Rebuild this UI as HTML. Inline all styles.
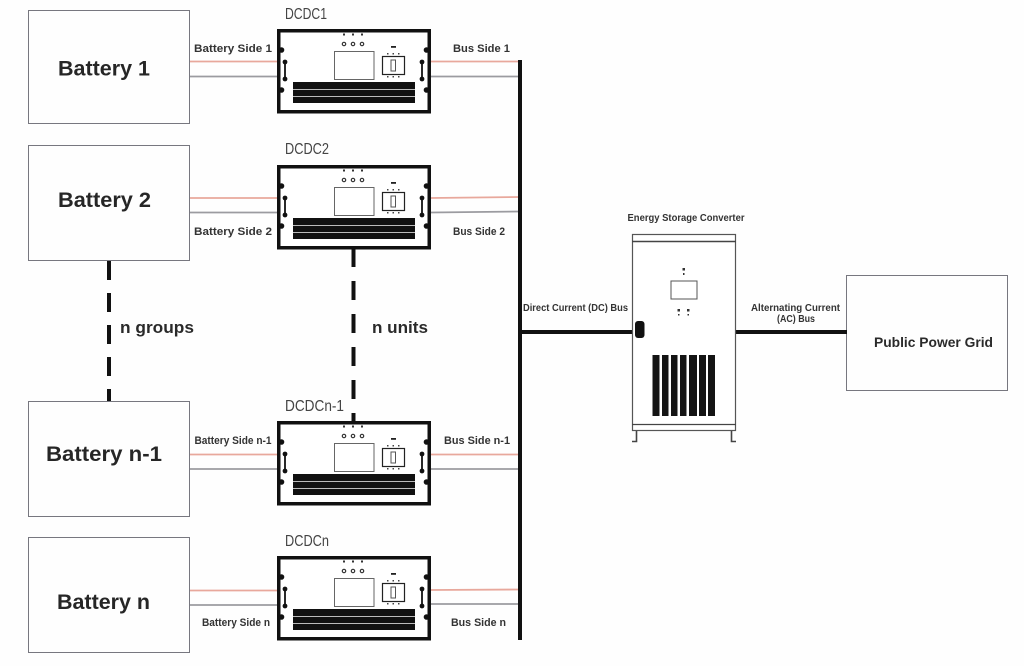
<!DOCTYPE html>
<html><head><meta charset="utf-8"><style>
html,body{margin:0;padding:0;background:#fefefe}
svg{display:block}
text{font-family:"Liberation Sans","Noto Sans CJK SC",sans-serif;fill:#2a2a2a;font-weight:bold}
.b{font-size:21px;fill:#262626}
.s{font-size:11px;fill:#333}
.d{font-weight:normal;font-size:16px;fill:#444}
.g{fill:none;stroke:#77777f;stroke-width:1}
</style></head><body>
<svg width="1024" height="666" viewBox="0 0 1024 666" xmlns="http://www.w3.org/2000/svg">
<defs>
<g id="m">
<rect x="1.75" y="1.75" width="150.5" height="81" fill="#fff" stroke="#111" stroke-width="3.5"/>
<g fill="#333"><rect x="66" y="4.5" width="2" height="2"/><rect x="75" y="4.5" width="2" height="2"/><rect x="84" y="4.5" width="2" height="2"/></g>
<g fill="none" stroke="#333" stroke-width="1.2"><circle cx="67" cy="15" r="1.7"/><circle cx="76" cy="15" r="1.7"/><circle cx="85" cy="15" r="1.7"/></g>
<rect x="57.500" y="22.5" width="39.5" height="28" fill="#fff" stroke="#666" stroke-width="1"/>
<rect x="105.5" y="27.5" width="22" height="18" fill="#fff" stroke="#222" stroke-width="1.2"/>
<rect x="114" y="31" width="4.5" height="11" fill="#fff" stroke="#555" stroke-width="1"/>
<rect x="114" y="17" width="5" height="1.8" fill="#222"/>
<g fill="#444"><rect x="110" y="24" width="1.5" height="1.5"/><rect x="115.5" y="24" width="1.5" height="1.5"/><rect x="121" y="24" width="1.5" height="1.5"/><rect x="110" y="47" width="1.5" height="1.5"/><rect x="115.5" y="47" width="1.5" height="1.5"/><rect x="121" y="47" width="1.5" height="1.5"/></g>
<rect x="16" y="53" width="122" height="21" fill="#111"/>
<rect x="16" y="60" width="122" height="1" fill="#bbb"/>
<rect x="16" y="67" width="122" height="1" fill="#bbb"/>
<g fill="#111"><circle cx="4.5" cy="21" r="2.8"/><circle cx="4.5" cy="61" r="2.8"/><circle cx="149.5" cy="21" r="2.8"/><circle cx="149.5" cy="61" r="2.8"/></g>
<g stroke="#111" stroke-width="1.8"><line x1="8" y1="33" x2="8" y2="50"/><line x1="145" y1="33" x2="145" y2="50"/></g>
<g fill="#111"><circle cx="8" cy="33" r="2.4"/><circle cx="8" cy="50" r="2.4"/><circle cx="145" cy="33" r="2.4"/><circle cx="145" cy="50" r="2.4"/></g>
</g>
</defs>
<rect width="1024" height="666" fill="#fefefe"/>

<rect class="g" x="28.500" y="10.5" width="161" height="113"/>
<rect class="g" x="28.5" y="145.5" width="161" height="115"/>
<rect class="g" x="28.5" y="401.5" width="161" height="115"/>
<rect class="g" x="28.5" y="537.5" width="161" height="115"/>
<rect class="g" x="846.5" y="275.5" width="161" height="115"/>

<g stroke-width="1.8">
<g stroke="#e8a89c">
<line x1="190" y1="61.5" x2="277" y2="61.5"/><line x1="431" y1="61.5" x2="520" y2="61.5"/>
<line x1="190" y1="198" x2="277" y2="198"/><line x1="431" y1="198" x2="520" y2="197"/>
<line x1="190" y1="454.5" x2="277" y2="454.5"/><line x1="431" y1="454.5" x2="520" y2="454.5"/>
<line x1="190" y1="590.5" x2="277" y2="590.5"/><line x1="431" y1="590" x2="520" y2="589.5"/>
</g>
<g stroke="#9b9ba0">
<line x1="190" y1="76.5" x2="277" y2="76.5"/><line x1="431" y1="76.5" x2="520" y2="76.5"/>
<line x1="190" y1="212.5" x2="277" y2="212.5"/><line x1="431" y1="212.5" x2="520" y2="211.5"/>
<line x1="190" y1="469" x2="277" y2="469"/><line x1="431" y1="469" x2="520" y2="469"/>
<line x1="190" y1="605" x2="277" y2="605"/><line x1="431" y1="604" x2="520" y2="604"/>
</g>
</g>

<use href="#m" x="277" y="29"/>
<use href="#m" x="277" y="165"/>
<use href="#m" x="277" y="421"/>
<use href="#m" x="277" y="556"/>

<rect x="518" y="60" width="4" height="580" fill="#111"/>
<line x1="520" y1="332" x2="633" y2="332" stroke="#111" stroke-width="4"/>
<line x1="736" y1="332" x2="847" y2="332" stroke="#111" stroke-width="4"/>
<g stroke="#111" stroke-width="4"><line x1="109" y1="261" x2="109" y2="401" stroke-dasharray="19 13"/><line x1="353.5" y1="248" x2="353.5" y2="421" stroke-dasharray="19 14"/></g>

<g fill="#fff" stroke="#555" stroke-width="1.2">
<rect x="632.5" y="234.5" width="103" height="196"/>
</g>
<line x1="632" y1="241.5" x2="736" y2="241.5" stroke="#444" stroke-width="1.6"/>
<line x1="632" y1="424.5" x2="736" y2="424.5" stroke="#444" stroke-width="1.2"/>
<path d="M636.500 431v10.500h-4.500M731.500 431v10.500h4.500" fill="none" stroke="#444" stroke-width="1.6"/>
<rect x="635" y="321" width="9.5" height="17" rx="3" fill="#111"/>
<rect x="671" y="281" width="26" height="18" fill="#fff" stroke="#555" stroke-width="1"/>
<g fill="#333"><rect x="682.5" y="268" width="2.5" height="2.5"/><rect x="683" y="273" width="1.5" height="2"/><rect x="677.5" y="309" width="2.5" height="2.5"/><rect x="678" y="314" width="1.5" height="1.5"/><rect x="687" y="309" width="2.5" height="2.5"/><rect x="687.5" y="314" width="1.5" height="1.5"/></g>
<g fill="#141414"><rect x="652.5" y="355" width="7" height="61"/><rect x="662" y="355" width="6.5" height="61"/><rect x="671" y="355" width="6.5" height="61"/><rect x="680" y="355" width="6.5" height="61"/><rect x="689" y="355" width="8" height="61"/><rect x="699" y="355" width="7" height="61"/><rect x="708" y="355" width="7" height="61"/></g>

<text class="b" x="58" y="75.5" textLength="92" lengthAdjust="spacingAndGlyphs">Battery 1</text>
<text class="b" x="58" y="207" textLength="93" lengthAdjust="spacingAndGlyphs">Battery 2</text>
<text class="b" x="46" y="461" textLength="116" lengthAdjust="spacingAndGlyphs">Battery n-1</text>
<text class="b" x="57" y="609" textLength="93" lengthAdjust="spacingAndGlyphs">Battery n</text>

<text class="s" x="194" y="52" textLength="78" lengthAdjust="spacingAndGlyphs">Battery Side 1</text>
<text class="s" x="453" y="52" textLength="57" lengthAdjust="spacingAndGlyphs">Bus Side 1</text>
<text class="s" x="194" y="235" textLength="78" lengthAdjust="spacingAndGlyphs">Battery Side 2</text>
<text class="s" x="453" y="235" textLength="52" lengthAdjust="spacingAndGlyphs">Bus Side 2</text>
<text class="s" x="194.5" y="444" textLength="77" lengthAdjust="spacingAndGlyphs">Battery Side n-1</text>
<text class="s" x="444" y="444" textLength="66" lengthAdjust="spacingAndGlyphs">Bus Side n-1</text>
<text class="s" x="202" y="626" textLength="68" lengthAdjust="spacingAndGlyphs">Battery Side n</text>
<text class="s" x="451" y="626" textLength="55" lengthAdjust="spacingAndGlyphs">Bus Side n</text>

<text class="d" x="285" y="19" textLength="42" lengthAdjust="spacingAndGlyphs">DCDC1</text>
<text class="d" x="285" y="154" textLength="44" lengthAdjust="spacingAndGlyphs">DCDC2</text>
<text class="d" x="285" y="411" textLength="59" lengthAdjust="spacingAndGlyphs">DCDCn-1</text>
<text class="d" x="285" y="546" textLength="44" lengthAdjust="spacingAndGlyphs">DCDCn</text>

<text x="120" y="333" font-size="17" textLength="74" lengthAdjust="spacingAndGlyphs">n groups</text>
<text x="372" y="333" font-size="17" textLength="56" lengthAdjust="spacingAndGlyphs">n units</text>

<text class="s" x="627.5" y="221" style="font-size:10px" textLength="117" lengthAdjust="spacingAndGlyphs">Energy Storage Converter</text>
<text class="s" x="523" y="311" style="font-size:10px" textLength="105" lengthAdjust="spacingAndGlyphs">Direct Current (DC) Bus</text>
<text class="s" x="751" y="311" style="font-size:10px" textLength="89" lengthAdjust="spacingAndGlyphs">Alternating Current</text>
<text class="s" x="777" y="322" style="font-size:10px" textLength="38" lengthAdjust="spacingAndGlyphs">(AC) Bus</text>
<text x="874" y="347" font-size="14" textLength="119" lengthAdjust="spacingAndGlyphs">Public Power Grid</text>
</svg>
</body></html>
